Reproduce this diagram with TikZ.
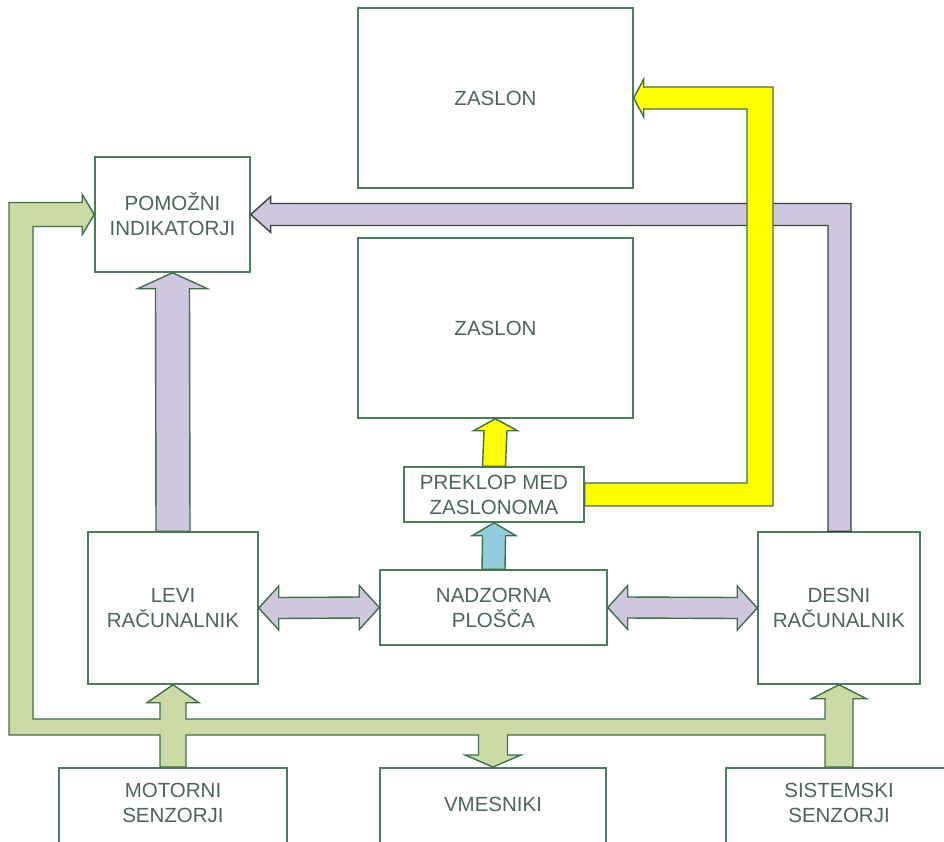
\documentclass[tikz,border=0pt]{standalone}
\usepackage{fontspec}
\setmainfont{Liberation Sans}
\usetikzlibrary{calc}

\definecolor{boxline}{HTML}{4A7D5C}
\definecolor{boxtext}{HTML}{4D6657}
\definecolor{arrowline}{HTML}{3F6E4A}
\definecolor{busgreen}{HTML}{CCDBA6}
\definecolor{buspurple}{HTML}{CFC7E0}
\definecolor{busblue}{HTML}{93CDDD}
\definecolor{busyellow}{HTML}{FFFF00}

\begin{document}
\begin{tikzpicture}[x=1pt, y=-1pt,
  box/.style = {draw=boxline, line width=1.5pt, fill=white, align=center,
    text=boxtext, font=\fontsize{20.5}{25}\selectfont, inner sep=0pt},
  fat/.style = {draw=arrowline, line width=1.4pt, line join=miter}]

\useasboundingbox (0,0) rectangle (944,841);
\clip (0,0) rectangle (944,841);

% boxes
\node[box, minimum width=275, minimum height=180] (zaslona) at (495.5,98) {ZASLON};
\node[box, minimum width=275, minimum height=180] (zaslonb) at (495.5,328) {ZASLON};
\node[box, minimum width=155, minimum height=115] (pom) at (172.5,214.5) {POMOŽNI\\INDIKATORJI};
\node[box, minimum width=180, minimum height=55] (prek) at (494,494.5) {PREKLOP MED\\ZASLONOMA};
\node[box, minimum width=227, minimum height=75] (nad) at (493.5,607.5) {NADZORNA\\PLOŠČA};
\node[box, minimum width=170, minimum height=152] (levi) at (173,608) {LEVI\\RAČUNALNIK};
\node[box, minimum width=162, minimum height=152] (desni) at (839,608) {DESNI\\RAČUNALNIK};
\node[box, anchor=north, minimum width=228, inner ysep=15, text depth=80] (mot) at (173,767) {MOTORNI\\SENZORJI};
\node[box, anchor=north, minimum width=226, inner ysep=29, text depth=80] (vmes) at (493,767) {VMESNIKI};
\node[box, anchor=north, minimum width=226, inner ysep=15, text depth=80] (sist) at (839,767) {SISTEMSKI\\SENZORJI};

\coordinate (gleft) at (21,0);
\coordinate (gbus) at (0,727);
\coordinate (yturn) at (760,0);

% purple links
\draw[fat, fill=buspurple] ($(levi.north)+(-17,0)$) -- ($(pom.south)+(-17,16)$)
  -- ($(pom.south)+(-35,16)$) -- (pom.south) -- ($(pom.south)+(35,16)$)
  -- ($(pom.south)+(17,16)$) -- ($(levi.north)+(17,0)$) -- cycle;
\draw[fat, draw=black!75, fill=buspurple] ($(desni.north)+(-11,0)$)
  -- ($(desni.north |- pom.east)+(-11,11)$) -- ($(pom.east)+(20,11)$)
  -- ($(pom.east)+(20,18)$) -- (pom.east) -- ($(pom.east)+(20,-18)$)
  -- ($(pom.east)+(20,-11)$) -- ($(desni.north |- pom.east)+(12,-11)$)
  -- ($(desni.north)+(12,0)$) -- cycle;
\draw[fat, fill=buspurple] (levi.east) -- ($(levi.east)+(20,-22)$) -- ($(levi.east)+(20,-10.5)$)
  -- ($(nad.west)+(-20,-10.5)$) -- ($(nad.west)+(-20,-22)$) -- (nad.west)
  -- ($(nad.west)+(-20,22)$) -- ($(nad.west)+(-20,10.5)$)
  -- ($(levi.east)+(20,10.5)$) -- ($(levi.east)+(20,22)$) -- cycle;
\draw[fat, fill=buspurple] (nad.east) -- ($(nad.east)+(20,-22)$) -- ($(nad.east)+(20,-10.5)$)
  -- ($(desni.west)+(-20,-10.5)$) -- ($(desni.west)+(-20,-22)$) -- (desni.west)
  -- ($(desni.west)+(-20,22)$) -- ($(desni.west)+(-20,10.5)$)
  -- ($(nad.east)+(20,10.5)$) -- ($(nad.east)+(20,22)$) -- cycle;

% blue and yellow
\draw[fat, fill=busblue] ($(nad.north)+(-11.5,0)$) -- ($(prek.south)+(-11.5,13)$)
  -- ($(prek.south)+(-22,13)$) -- (prek.south) -- ($(prek.south)+(22,13)$)
  -- ($(prek.south)+(11.5,13)$) -- ($(nad.north)+(11.5,0)$) -- cycle;
\draw[fat, fill=busyellow] ($(prek.north)+(-11.5,0)$) -- ($(zaslonb.south)+(-11.5,12)$)
  -- ($(zaslonb.south)+(-22,12)$) -- (zaslonb.south) -- ($(zaslonb.south)+(22,12)$)
  -- ($(zaslonb.south)+(11.5,12)$) -- ($(prek.north)+(11.5,0)$) -- cycle;
\draw[fat, fill=busyellow] ($(prek.east)+(0,-11.5)$) -- ($(yturn |- prek.east)+(-13,-11.5)$)
  -- ($(yturn |- zaslona.east)+(-13,11)$) -- ($(zaslona.east)+(10,11)$)
  -- ($(zaslona.east)+(10,19)$) -- (zaslona.east) -- ($(zaslona.east)+(10,-19)$)
  -- ($(zaslona.east)+(10,-11)$) -- ($(yturn |- zaslona.east)+(13,-11)$)
  -- ($(yturn |- prek.east)+(13,11.5)$) -- ($(prek.east)+(0,11.5)$) -- cycle;

% green bus
\draw[fat, fill=busgreen] (pom.west) -- ($(pom.west)+(-12,20)$) -- ($(pom.west)+(-12,12)$)
  -- ($(gleft |- pom.west)+(12,12)$) -- ($(gleft |- gbus)+(12,-8)$)
  -- ($(mot.north |- gbus)+(-13,-8)$) -- ($(levi.south)+(-13,18)$)
  -- ($(levi.south)+(-26,18)$) -- (levi.south) -- ($(levi.south)+(26,18)$)
  -- ($(levi.south)+(13,18)$) -- ($(mot.north |- gbus)+(13,-8)$)
  -- ($(sist.north |- gbus)+(-14,-8)$) -- ($(desni.south)+(-14,14)$)
  -- ($(desni.south)+(-27.5,14)$) -- (desni.south) -- ($(desni.south)+(27.5,14)$)
  -- ($(desni.south)+(14,14)$) -- ($(sist.north)+(14,0)$) -- ($(sist.north)+(-14,0)$)
  -- ($(sist.north |- gbus)+(-14,8)$) -- ($(vmes.north |- gbus)+(14.5,8)$)
  -- ($(vmes.north)+(14.5,-12)$) -- ($(vmes.north)+(28,-12)$) -- (vmes.north)
  -- ($(vmes.north)+(-28,-12)$) -- ($(vmes.north)+(-14.5,-12)$)
  -- ($(vmes.north |- gbus)+(-14.5,8)$) -- ($(mot.north |- gbus)+(13,8)$)
  -- ($(mot.north)+(13,0)$) -- ($(mot.north)+(-13,0)$)
  -- ($(mot.north |- gbus)+(-13,8)$) -- ($(gleft |- gbus)+(-12,8)$)
  -- ($(gleft |- pom.west)+(-12,-12)$) -- ($(pom.west)+(-12,-12)$)
  -- ($(pom.west)+(-12,-20)$) -- cycle;
\end{tikzpicture}
\end{document}
